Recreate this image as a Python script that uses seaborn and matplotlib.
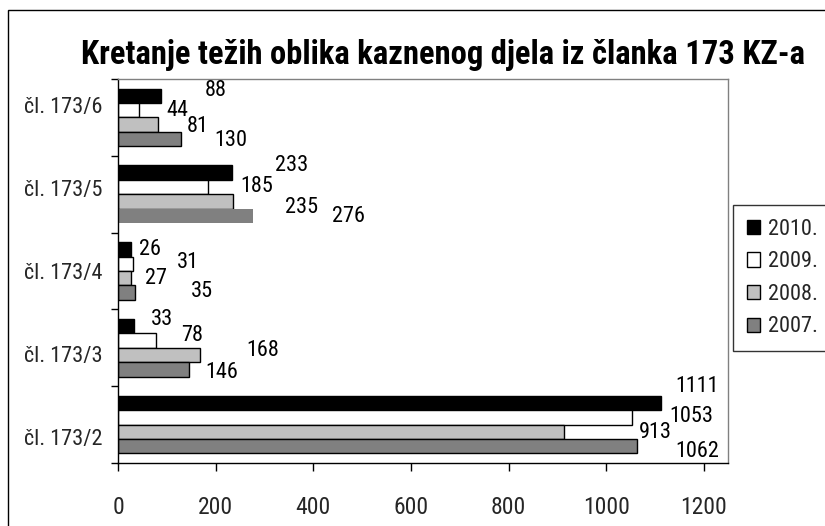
import matplotlib
matplotlib.use("Agg")
import matplotlib.pyplot as plt
import seaborn as sns
import pandas as pd
from matplotlib.patches import Rectangle

# ---- data ----
categories = ["čl. 173/6", "čl. 173/5", "čl. 173/4", "čl. 173/3", "čl. 173/2"]
years = ["2010.", "2009.", "2008.", "2007."]
v2010 = [88, 233, 26, 33, 1111]
v2009 = [44, 185, 31, 78, 1053]
v2008 = [81, 235, 27, 168, 913]
v2007 = [130, 276, 35, 146, 1062]
x_ticks = [0, 200, 400, 600, 800, 1000, 1200]
title = "Kretanje težih oblika kaznenog djela iz članka 173 KZ-a"

# ---- styling (label offsets in pixels: dx right, dy down), per category then per year ----
label_offsets = [
    [(55, -5.5), (37.5, 0), (40, 2), (49.5, 1)],
    [(60, -7), (48, -1), (69, 6), (96, 1)],
    [(19, 0), (55, -1), (25, 0), (67, -1)],
    [(28, -7), (36, -5), (63, -5), (32, 3)],
    [(37, -16), (59, -1), (92, 1), (61, 5)],
]
colors = ["#000000", "#FFFFFF", "#C0C0C0", "#808080"]

series = {"2010.": v2010, "2009.": v2009, "2008.": v2008, "2007.": v2007}
rows = []
for ci, cat in enumerate(categories):
    for y in years:
        rows.append({"category": cat, "year": y, "value": series[y][ci]})
df = pd.DataFrame(rows)

sns.set_theme(style="white")
plt.rcParams["font.family"] = ["Roboto Condensed", "Liberation Sans", "DejaVu Sans"]

fig = plt.figure(figsize=(8.25, 5.26), dpi=100)
W, H = 825, 526
ax = fig.add_axes([118 / W, (H - 463) / H, 610 / W, 384 / H])

sns.barplot(data=df, y="category", x="value", hue="year", order=categories,
            hue_order=years, palette=colors, orient="h", width=0.75,
            edgecolor="black", linewidth=1, saturation=1, ax=ax, legend=True,
            errorbar=None)

# bar without outline (as in the reference)
for k, cont in enumerate(ax.containers):
    for i, bar in enumerate(cont):
        if years[k] == "2007." and categories[i] == "čl. 173/5":
            bar.set_edgecolor("none")

fs_lab = 16
fs_cat = 16
fs_tick = 17
fs_title = 23.5

# data labels
for k, cont in enumerate(ax.containers):
    for i, bar in enumerate(cont):
        val = bar.get_width()
        yc = bar.get_y() + bar.get_height() / 2
        dx, dy = label_offsets[i][k]
        ax.annotate(f"{int(round(val))}", xy=(val, yc), xytext=(dx, -dy),
                    textcoords="offset pixels", ha="center", va="center",
                    fontsize=fs_lab, color="black", annotation_clip=False)

# axes
ax.set_xlim(0, 1200 * 610 / 586)
ax.set_xticks(x_ticks)
ax.set_xticklabels([str(t) for t in x_ticks])
ax.tick_params(axis="x", which="major", direction="out", length=6, width=1,
               color="black", pad=18, labelsize=fs_tick, bottom=True)

n = len(categories)
ax.set_ylim(n - 0.5, -0.5)
ax.set_yticks([i - 0.5 for i in range(n + 1)])
ax.set_yticklabels([])
label_pos = [2 + (i - 2) * 1.083 for i in range(n)]
ax.set_yticks(label_pos, labels=categories, minor=True)
ax.tick_params(axis="y", which="major", direction="out", length=5, width=1,
               color="black", left=True)
ax.tick_params(axis="y", which="minor", length=0, pad=11, labelsize=fs_cat)
ax.set_xlabel("")
ax.set_ylabel("")
ax.grid(False)

for side in ["left", "bottom"]:
    ax.spines[side].set_color("black")
    ax.spines[side].set_linewidth(1)
for side in ["top", "right"]:
    ax.spines[side].set_color("#808080")
    ax.spines[side].set_linewidth(1)

# legend
handles, labels = ax.get_legend_handles_labels()
if ax.get_legend() is not None:
    ax.get_legend().remove()
leg = fig.legend(handles, labels, loc="upper left",
                 bbox_to_anchor=(733 / W, 1 - 205 / H), frameon=True,
                 fancybox=False, edgecolor="black", fontsize=fs_lab,
                 handlelength=0.6, handleheight=0.6, handletextpad=0.35,
                 labelspacing=0.52, borderpad=0.62, borderaxespad=0)
leg.get_frame().set_linewidth(1)

# title
fig.text(443 / W, 1 - 55 / H, title, ha="center", va="center",
         fontsize=fs_title, fontweight="bold", color="black")

# outer chart border
fig.add_artist(Rectangle((8 / W, -0.1), 1.2, (1 - 10 / H) + 0.1,
                         transform=fig.transFigure, fill=False,
                         edgecolor="black", linewidth=1))

fig.savefig("out.png", dpi=100)
